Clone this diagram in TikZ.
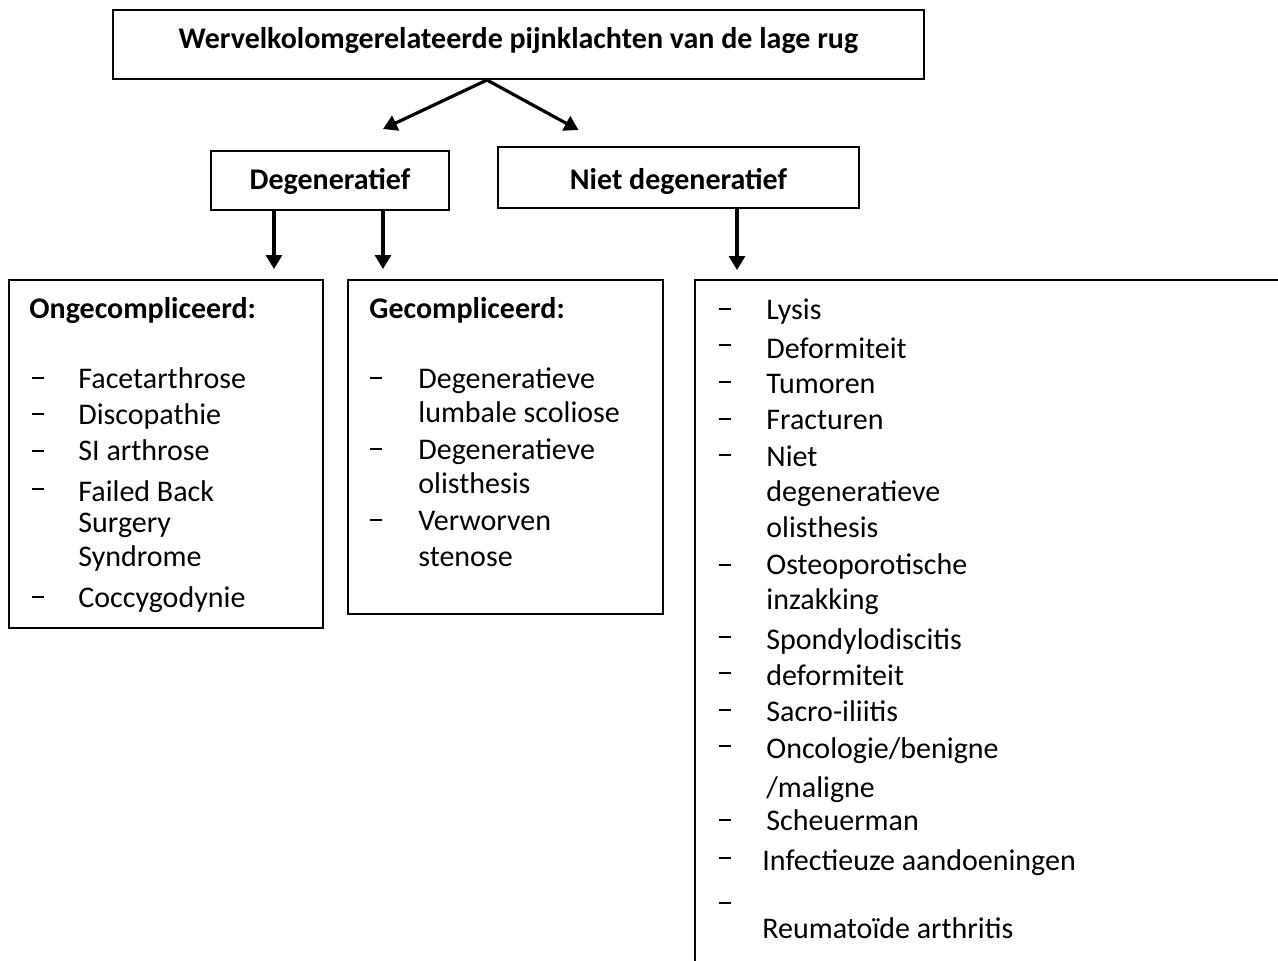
\documentclass[tikz,border=0pt]{standalone}
\usepackage{fontspec}
\setmainfont{Carlito}
\usetikzlibrary{arrows.meta}

\tikzset{
  box/.style={draw, line width=1pt, inner sep=0pt},
  head/.style={font=\fontsize{15}{18}\selectfont\bfseries},
  item/.style={anchor=base west, inner sep=0pt, font=\fontsize{15}{18}\selectfont},
  dashmark/.style={anchor=west, inner sep=0pt},
  arr/.style={line width=1.6pt, -{Triangle[length=7pt,width=8pt]}}
}
\newcommand{\itemdash}{\rule{6pt}{0.7pt}}

\begin{document}
\begin{tikzpicture}[x=0.5pt, y=-0.5pt]
    \path[use as bounding box, clip] (0,0) rectangle (1278,960);
    \fill[white] (0,0) rectangle (1278,960);

    % boxes
    \node[box, head, text depth=6.5pt, minimum width=405.5pt, minimum height=34.5pt] (top) at (518.5,44.5) {Wervelkolomgerelateerde pijnklachten van de lage rug};
    \node[box, head, text height=12pt, minimum width=119pt, minimum height=29.5pt] (deg) at (330,180.5) {Degeneratief};
    \node[box, head, text height=15pt, minimum width=180.5pt, minimum height=30.5pt] (niet) at (678.5,177.5) {Niet degeneratief};
    \node[box, minimum width=157pt, minimum height=174pt] (ong) at (166,454) {};
    \node[box, minimum width=157.5pt, minimum height=167pt] (gec) at (505.5,447) {};
    \node[box, anchor=north west, minimum width=305pt, minimum height=360pt] (ndg) at (694,279) {};

    % arrows
    \draw[arr] ([xshift=-15.75pt]top.south) -- ([xshift=26.5pt,yshift=10.5pt]deg.north);
    \draw[arr] ([xshift=-15.75pt]top.south) -- ([xshift=-50pt,yshift=8pt]niet.north);
    \draw[arr] ([xshift=-28pt]deg.south) -- ([xshift=54pt,yshift=5pt]ong.north);
    \draw[arr] ([xshift=26.5pt]deg.south) -- ([xshift=-61.25pt,yshift=5pt]gec.north);
    \draw[arr] ([xshift=29.25pt]niet.south) -- ([xshift=21.5pt,yshift=4.5pt]ndg.north west);

    % ongecompliceerd
    \node[item, head] (ongh) at (29,318) {Ongecompliceerd:};
    \foreach \y [count=\i] in {378,414,451,489,597}
        \node[dashmark] (od\i) at (32,\y) {\itemdash};
    \foreach \y/\t [count=\i] in {388/Facetarthrose, 424/Discopathie, 460/SI arthrose,
        501/Failed Back, 532/Surgery, 566/Syndrome, 607/Coccygodynie}
        \node[item] (o\i) at (78,\y) {\t};

    % gecompliceerd
    \node[item, head] (gech) at (369,318) {Gecompliceerd:};
    \foreach \y [count=\i] in {378,449,520}
        \node[dashmark] (gd\i) at (370,\y) {\itemdash};
    \foreach \y/\t [count=\i] in {388/Degeneratieve, 422/lumbale scoliose, 459/Degeneratieve,
        493/olisthesis, 530/Verworven, 566/stenose}
        \node[item] (g\i) at (418,\y) {\t};

    % niet degeneratief
    \foreach \y [count=\i] in {309,345,382,419,455,565,637,673,710,746,820,858,903}
        \node[dashmark] (nd\i) at (719,\y) {\itemdash};
    \foreach \y/\t [count=\i] in {319/Lysis, 358/Deformiteit, 393/Tumoren, 429/Fracturen,
        466/Niet, 501/degeneratieve, 537/olisthesis, 574/Osteoporotische, 609/inzakking,
        649/Spondylodiscitis, 685/deformiteit, 721/Sacro-iliitis, 758/{Oncologie/benigne},
        797/{/maligne}, 830/Scheuerman}
        \node[item] (n\i) at (766,\y) {\t};
    \node[item] (n16) at (762,870) {Infectieuze aandoeningen};
    \node[item] (n17) at (762,938) {Reumatoïde arthritis};
\end{tikzpicture}
\end{document}
